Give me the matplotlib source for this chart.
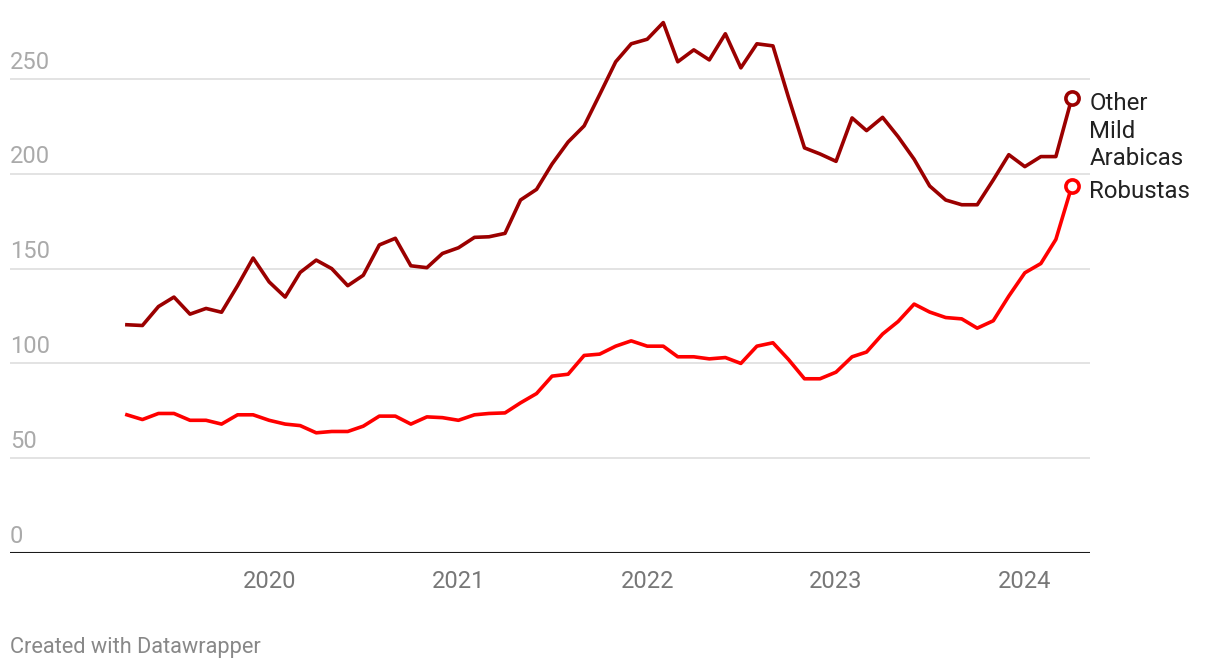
import numpy as np
import pandas as pd
import matplotlib
matplotlib.use("Agg")
import matplotlib.pyplot as plt
import matplotlib.transforms as mtransforms

plt.rcParams['font.family'] = ['Roboto', 'DejaVu Sans']

# monthly prices, Apr 2019 - Apr 2024
dates = pd.date_range("2019-04-01", "2024-04-01", freq="MS")
arabicas = [120.4, 120, 130, 135, 126, 129, 127, 141, 155.6, 143,
            135, 148, 154.5, 150, 141, 146.5, 162.5, 166, 151.5, 150.5,
            158, 161, 166.5, 166.8, 168.6, 186.2, 191.8, 205.2, 216.8, 225.3,
            241.8, 259.1, 268.6, 271, 279.8, 259.1, 265.4, 260.1, 273.9, 255.9,
            268.6, 267.5, 240.4, 213.7, 210.5, 206.6, 229.5, 222.8, 229.8, 219.6,
            207.7, 193.6, 186.2, 183.7, 183.7, 196.8, 210.1, 203.8, 209.1, 209.1,
            240.1]
robustas = [72.9, 70.4, 73.6, 73.6, 70, 70, 68, 72.9, 72.9, 70,
            68, 67.2, 63.4, 64.1, 64.1, 66.9, 72.2, 72.2, 68, 71.8,
            71.4, 70, 72.9, 73.6, 73.9, 79.2, 84.1, 93.3, 94.3, 104.2,
            104.9, 109.1, 111.9, 109.1, 109.1, 103.5, 103.5, 102.4, 103.1, 100,
            109.1, 110.9, 102.1, 91.9, 91.9, 95.4, 103.5, 106, 115.5, 122.1,
            131.3, 127.1, 124.2, 123.5, 118.6, 122.5, 135.5, 147.8, 152.7, 165.4,
            193.6]
y_ticks = [0, 50, 100, 150, 200, 250]
x_years = [2020, 2021, 2022, 2023, 2024]

c_arab = '#9b0000'
c_rob = '#ff0000'

fig = plt.figure(figsize=(12.2, 6.7), dpi=100)
ax = fig.add_axes([10/1220, (670-553)/670, 1080/1220, 553/670])

ax.set_ylim(0, 291.7)
ax.set_xlim(pd.Timestamp("2019-04-01") - pd.Timedelta(days=226),
            pd.Timestamp("2024-04-01") + pd.Timedelta(days=35))

# grid + labels above lines
for v in y_ticks[1:]:
    ax.axhline(v, color='#e1e1e1', lw=1.3, zorder=1)
ax.axhline(0, color='#1a1a1a', lw=1.5, zorder=3)
trans = mtransforms.blended_transform_factory(ax.transAxes, ax.transData)
for v in y_ticks:
    ax.annotate(str(v), (0, v), xycoords=trans, xytext=(0, 7.5),
                textcoords='offset points', ha='left', va='baseline',
                color='#aaaaaa', fontsize=17)

ax.plot(dates, arabicas, color=c_arab, lw=2.6, zorder=4)
ax.plot(dates, robustas, color=c_rob, lw=2.6, zorder=4)
ax.plot(dates[-1], arabicas[-1], 'o', ms=9.5, mfc='white', mec=c_arab, mew=2.6, zorder=5)
ax.plot(dates[-1], robustas[-1], 'o', ms=9.5, mfc='white', mec=c_rob, mew=2.6, zorder=5)

ax.annotate("Other\nMild\nArabicas", (dates[-1], arabicas[-1]), xytext=(12.5, -48.7),
            textcoords='offset points', ha='left', va='baseline', fontsize=17.3,
            color='#222222', linespacing=1.25, annotation_clip=False)
ax.annotate("Robustas", (dates[-1], robustas[-1]), xytext=(12.5, -8.4),
            textcoords='offset points', ha='left', va='baseline', fontsize=17.3,
            color='#222222', annotation_clip=False)

ax.set_xticks([pd.Timestamp(f"{y}-01-01") for y in x_years])
ax.set_xticklabels([str(y) for y in x_years], color='#777777', fontsize=17)
ax.tick_params(axis='x', length=0, pad=12)
ax.set_yticks([])
for s in ax.spines.values():
    s.set_visible(False)

fig.text(10/1220, 1 - 653/670, "Created with Datawrapper", ha='left', va='baseline',
         color='#888888', fontsize=15.7)

fig.savefig("out.png", dpi=100)
